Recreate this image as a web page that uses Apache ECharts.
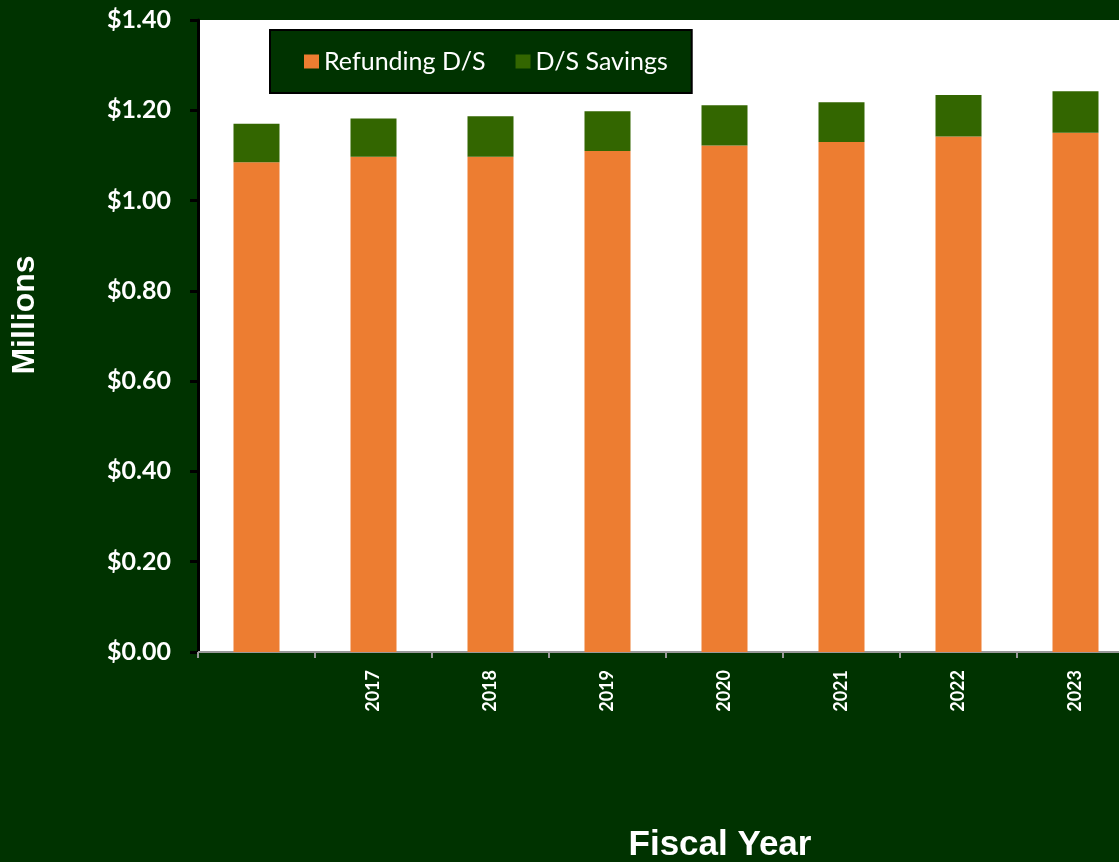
<!DOCTYPE html>
<html>
<head>
<meta charset="utf-8">
<script src="https://cdn.jsdelivr.net/npm/echarts@6/dist/echarts.min.js"></script>
<style>
  html, body { margin: 0; padding: 0; background: #003300; overflow: hidden; }
  /* the plot runs past the right edge of the window, like the source */
  #chart { width: 1134px; height: 862px; }
</style>
</head>
<body>
<div id="chart"></div>
<script>
// fiscal years (first bar has no label on the axis)
const years = ['', '2017', '2018', '2019', '2020', '2021', '2022', '2023'];
// values in $ millions
const refundingDS = [1.085, 1.097, 1.097, 1.110, 1.122, 1.130, 1.142, 1.150];
const dsSavings = [0.085, 0.085, 0.090, 0.088, 0.089, 0.088, 0.092, 0.092];

const chart = echarts.init(document.getElementById('chart'));

const option = {
  backgroundColor: '#003300',
  animation: false,
  grid: {
    left: 198,
    right: 0,
    top: 20,
    bottom: 210,
    show: true,
    backgroundColor: '#ffffff',
    borderWidth: 0
  },
  legend: {
    left: 270,
    top: 30,
    padding: [19, 24, 19, 34],
    itemGap: 30,
    itemWidth: 15,
    itemHeight: 14,
    icon: 'rect',
    backgroundColor: '#003300',
    borderColor: '#000000',
    borderWidth: 2,
    textStyle: { color: '#ffffff', fontSize: 25, fontFamily: 'Lato' },
    data: ['Refunding D/S', 'D/S Savings']
  },
  graphic: [
    {
      type: 'text',
      x: 25,
      y: 315,
      rotation: Math.PI / 2,
      style: {
        text: 'Millions',
        fill: '#ffffff',
        font: 'bold 32px "Liberation Sans", Arial',
        align: 'center',
        verticalAlign: 'middle'
      }
    },
    {
      type: 'text',
      x: 720,
      y: 845,
      style: {
        text: 'Fiscal Year',
        fill: '#ffffff',
        font: 'bold 35px "Liberation Sans", Arial',
        align: 'center',
        verticalAlign: 'middle'
      }
    }
  ],
  xAxis: {
    type: 'category',
    data: years,
    axisLine: { lineStyle: { color: '#999999', width: 2 } },
    axisTick: { show: true, length: 6, lineStyle: { color: '#999999', width: 2 } },
    axisLabel: {
      rotate: 90,
      color: '#ffffff',
      fontSize: 18,
      fontWeight: 'bold',
      fontFamily: 'Lato',
      margin: 18,
      interval: 0
    },
    splitLine: { show: false }
  },
  yAxis: {
    type: 'value',
    min: 0,
    max: 1.4,
    interval: 0.2,
    axisLine: { show: true, lineStyle: { color: '#000000', width: 3 } },
    axisTick: { show: true, length: 8, lineStyle: { color: '#000000', width: 3 } },
    axisLabel: {
      color: '#ffffff',
      fontSize: 25,
      fontWeight: 'bold',
      fontFamily: 'Lato',
      margin: 27,
      formatter: v => '$' + v.toFixed(2)
    },
    splitLine: { show: false }
  },
  series: [
    {
      name: 'Refunding D/S',
      type: 'bar',
      stack: 'ds',
      barWidth: 46,
      itemStyle: { color: '#ED7D31' },
      data: refundingDS
    },
    {
      name: 'D/S Savings',
      type: 'bar',
      stack: 'ds',
      barWidth: 46,
      itemStyle: { color: '#336600' },
      data: dsSavings
    }
  ]
};

chart.setOption(option);
</script>
</body>
</html>
